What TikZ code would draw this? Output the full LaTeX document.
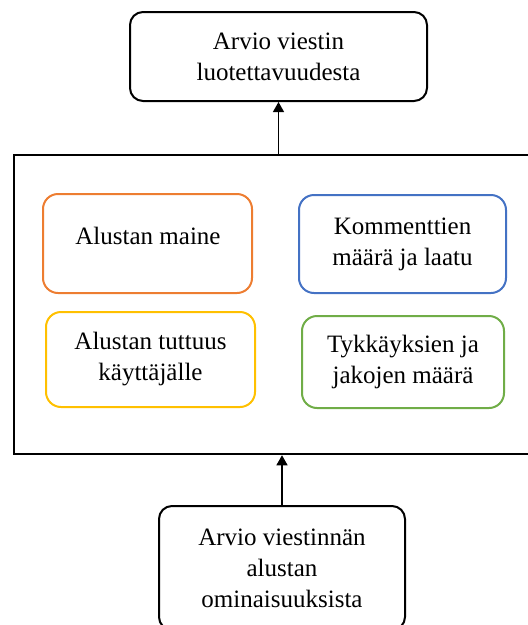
\documentclass[tikz,border=0pt]{standalone}
\usepackage{fontspec}
\setmainfont{Liberation Serif}
\usetikzlibrary{arrows.meta}
\definecolor{borange}{HTML}{ED7D31}
\definecolor{bblue}{HTML}{4472C4}
\definecolor{byellow}{HTML}{FFC000}
\definecolor{bgreen}{HTML}{70AD47}
\begin{document}
\begin{tikzpicture}[x=1pt,y=-1pt,
  txt/.style={align=center, font=\fontsize{25}{31}\selectfont, inner sep=0pt},
  blackbox/.style={txt, draw=black, line width=2pt, rounded corners=13pt},
  cbox/.style={txt, draw=#1, line width=2pt, rounded corners=15pt},
  arr/.style={line width=1.2pt, -{Triangle[length=10pt,width=11pt]}}]
\useasboundingbox (0,0) rectangle (528,625);
\begin{scope}
\clip (0,0) rectangle (528,625);
\node[blackbox, minimum width=297pt, minimum height=89pt] (top) at (278.5,56.5) {Arvio viestin\\luotettavuudesta};
\node[draw=black, line width=2.5pt, minimum width=526pt, minimum height=299pt, inner sep=0pt] (frame) at (277,304.5) {};
\node[cbox=borange, minimum width=209pt, minimum height=99pt] (orange) at (147.5,243.5) {};
\node[txt] (orangetext) at (148,236) {Alustan maine};
\node[cbox=bblue, minimum width=207pt, minimum height=98pt] (blue) at (402.5,244) {Kommenttien\\määrä ja laatu};
\node[cbox=byellow, minimum width=209pt, minimum height=95pt] (yellow) at (150.5,359.5) {Alustan tuttuus\\käyttäjälle};
\node[cbox=bgreen, minimum width=202pt, minimum height=92pt] (green) at (403,362) {Tykkäyksien ja\\jakojen määrä};
\node[blackbox, minimum width=246pt, minimum height=124pt] (bottom) at (282,568) {Arvio viestinnän\\alustan\\ominaisuuksista};
\draw[arr] (frame.north -| top.south) -- (top.south);
\draw[arr] (bottom.north) -- (bottom.north |- frame.south);
\end{scope}
\end{tikzpicture}
\end{document}
